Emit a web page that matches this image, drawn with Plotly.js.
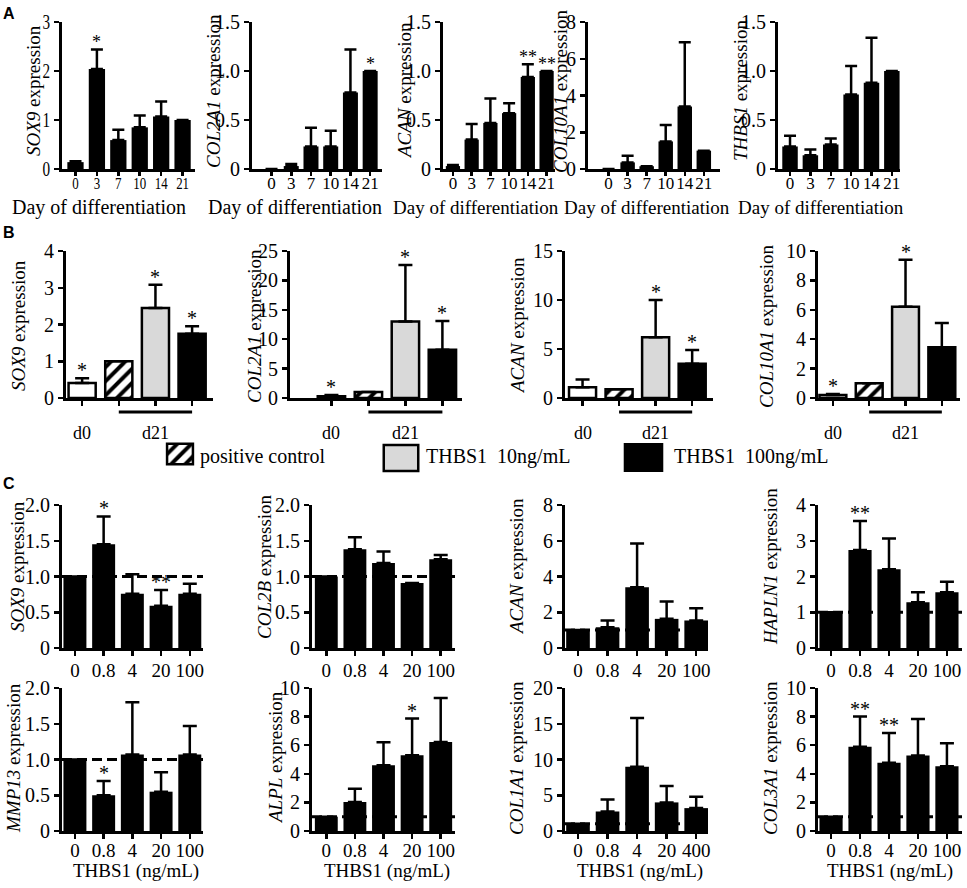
<!DOCTYPE html>
<html><head><meta charset="utf-8">
<script src="https://cdn.plot.ly/plotly-3.0.1.min.js"></script>
<style>html,body{margin:0;padding:0;background:#fff}#chart{width:967px;height:888px}</style>
</head><body><div id="chart"></div>
<script>
// ================= DATA =================
// Panel A: days of differentiation
const daysA = ['0', '3', '7', '10', '14', '21'];
const aSOX9 = [0.14, 2.04, 0.59, 0.85, 1.07, 1.0];
const aSOX9sd = [0.02, 0.40, 0.21, 0.24, 0.31, 0];
const aSOX9sig = ['', '*', '', '', '', ''];
const aCOL2A1 = [0, 0.03, 0.23, 0.23, 0.78, 1.0];
const aCOL2A1sd = [0, 0.02, 0.19, 0.16, 0.44, 0];
const aCOL2A1sig = ['', '', '', '', '', '*'];
const aACAN = [0.03, 0.30, 0.47, 0.57, 0.94, 1.0];
const aACANsd = [0.01, 0.16, 0.25, 0.10, 0.13, 0];
const aACANsig = ['', '', '', '', '**', '**'];
const aCOL10A1 = [0, 0.36, 0.15, 1.5, 3.4, 1.0];
const aCOL10A1sd = [0, 0.36, 0, 0.9, 3.5, 0];
const aCOL10A1sig = ['', '', '', '', '', ''];
const aTHBS1 = [0.23, 0.14, 0.25, 0.76, 0.88, 1.0];
const aTHBS1sd = [0.11, 0.06, 0.06, 0.29, 0.46, 0];
const aTHBS1sig = ['', '', '', '', '', ''];

// Panel B: d0 vs d21 groups
const groupsB = ['d0', 'positive control', 'THBS1 10ng/mL', 'THBS1 100ng/mL'];
const bColors = ['white', 'white', '#d9d9d9', 'black'];
const bPatterns = ['', '/', '', ''];
const bDayLabels = ['d0', 'd21'];
const bDayFirst = [0, 1];
const bDayLast = [0, 3];
const bSOX9 = [0.41, 1.0, 2.45, 1.75];
const bSOX9sd = [0.13, 0, 0.63, 0.20];
const bSOX9sig = ['*', '', '*', '*'];
const bCOL2A1 = [0.3, 1.0, 13.0, 8.2];
const bCOL2A1sd = [0.2, 0, 9.6, 4.9];
const bCOL2A1sig = ['*', '', '*', '*'];
const bACAN = [1.1, 0.9, 6.2, 3.5];
const bACANsd = [0.8, 0, 3.8, 1.4];
const bACANsig = ['', '', '*', '*'];
const bCOL10A1 = [0.2, 1.0, 6.2, 3.45];
const bCOL10A1sd = [0.08, 0, 3.2, 1.65];
const bCOL10A1sig = ['*', '', '*', ''];
const legendNames = ['positive control', 'THBS1  10ng/mL', 'THBS1  100ng/mL'];
const legendColors = ['white', '#d9d9d9', 'black'];
const legendPatterns = ['/', '', ''];

// Panel C: THBS1 dose (ng/mL)
const doseC = ['0', '0.8', '4', '20', '100'];
const doseC_COL1A1 = ['0', '0.8', '4', '20', '400'];
const cSOX9 = [1.0, 1.45, 0.76, 0.59, 0.76];
const cSOX9sd = [0, 0.39, 0.27, 0.22, 0.14];
const cSOX9sig = ['', '*', '', '**', ''];
const cCOL2B = [1.0, 1.38, 1.19, 0.91, 1.24];
const cCOL2Bsd = [0, 0.17, 0.16, 0, 0.06];
const cCOL2Bsig = ['', '', '', '', ''];
const cACAN = [1.0, 1.16, 3.4, 1.63, 1.54];
const cACANsd = [0, 0.38, 2.44, 0.97, 0.69];
const cACANsig = ['', '', '', '', ''];
const cHAPLN1 = [1.0, 2.74, 2.2, 1.28, 1.56];
const cHAPLN1sd = [0, 0.81, 0.86, 0.28, 0.29];
const cHAPLN1sig = ['', '**', '', '', ''];
const cMMP13 = [1.0, 0.5, 1.07, 0.55, 1.07];
const cMMP13sd = [0, 0.2, 0.73, 0.27, 0.40];
const cMMP13sig = ['', '*', '', '', ''];
const cALPL = [1.0, 2.03, 4.6, 5.3, 6.22];
const cALPLsd = [0, 0.93, 1.6, 2.56, 3.08];
const cALPLsig = ['', '', '', '*', ''];
const cCOL1A1 = [1.0, 2.73, 9.0, 4.0, 3.2];
const cCOL1A1sd = [0, 1.67, 6.8, 2.3, 1.6];
const cCOL1A1sig = ['', '', '', '', ''];
const cCOL3A1 = [1.0, 5.9, 4.77, 5.28, 4.53];
const cCOL3A1sd = [0, 2.1, 2.09, 2.56, 1.61];
const cCOL3A1sig = ['', '**', '**', '', ''];
const cBaseline = 1.0;

// Tick labels
const t0to3 = ['0', '1', '2', '3'];
const t0to4 = ['0', '1', '2', '3', '4'];
const tHalf15 = ['0', '0.5', '1.0', '1.5'];
const tHalf20 = ['0', '0.5', '1.0', '1.5', '2.0'];
const t0to8 = ['0', '2', '4', '6', '8'];
const t0to10 = ['0', '2', '4', '6', '8', '10'];
const t0to15 = ['0', '5', '10', '15'];
const t0to20 = ['0', '5', '10', '15', '20'];
const t0to25 = ['0', '5', '10', '15', '20', '25'];

// ================= BUILD =================
const W = 967, H = 888;
const FONT = 'Liberation Serif, Times New Roman, serif';
const SANS = 'Liberation Sans, Arial, sans-serif';
const px = v => v / W;
const py = v => 1 - v / H;
const traces = [], annotations = [], shapes = [];
const squeeze = {};   // per-subplot horizontal condensing of tick labels
const layout = {
  width: W, height: H, margin: {l: 0, r: 0, t: 0, b: 0}, barmode: 'overlay',
  paper_bgcolor: 'white', plot_bgcolor: 'white', showlegend: false,
  font: {family: FONT, size: 19, color: 'black'}
};
let n = 0;
function ax(k) { return k === 1 ? '' : String(k); }

function panel(cfg) {
  n += 1;
  const s = ax(n);
  const xr = 'x' + s, yr = 'y' + s;
  squeeze['x' + s + 'y' + s] = cfg.sq;
  const tv = cfg.ticks.map(t => parseFloat(t));
  const errY = sd => ({type: 'data', symmetric: false, array: sd, arrayminus: sd.map(() => 0),
    color: 'black', thickness: 2.5, width: cfg.cap});
  if (cfg.colors) {
    // one trace per bar so that each bar keeps its own fill / hatch
    cfg.cats.forEach((c, i) => {
      const mk = {color: cfg.colors[i], line: {color: 'black', width: 2.5}};
      if (cfg.patterns[i]) mk.pattern = {shape: cfg.patterns[i], fgcolor: 'black', bgcolor: 'white', size: 10, solidity: 0.4};
      traces.push({type: 'bar', x: [c], y: [cfg.y[i]], xaxis: xr, yaxis: yr, width: cfg.bw,
        hoverinfo: 'skip', showlegend: false, marker: mk, error_y: errY([cfg.sd[i]])});
    });
  } else {
    traces.push({type: 'bar', x: cfg.cats, y: cfg.y, xaxis: xr, yaxis: yr, width: cfg.bw,
      hoverinfo: 'skip', showlegend: false, marker: {color: 'black', line: {width: 0}}, error_y: errY(cfg.sd)});
  }
  layout['xaxis' + s] = {
    domain: [px(cfg.x0), px(cfg.x1)], anchor: yr, type: 'category', range: cfg.xr,
    categoryorder: 'array', categoryarray: cfg.cats,
    tickmode: 'array', tickvals: cfg.cats, ticktext: cfg.cats, tickangle: 0,
    showline: true, linecolor: 'black', linewidth: 3,
    ticks: 'outside', ticklen: cfg.xtl, tickwidth: 2.5, tickcolor: 'black',
    ticklabelstandoff: cfg.xstand || 0,
    showticklabels: cfg.xlabels, tickfont: {family: FONT, size: cfg.xfs || 20, color: 'black'},
    showgrid: false, zeroline: false, fixedrange: true
  };
  layout['yaxis' + s] = {
    domain: [py(cfg.bot), py(cfg.top)], anchor: xr, range: [0, tv[tv.length - 1]],
    tickmode: 'array', tickvals: tv, ticktext: cfg.ticks,
    showline: true, linecolor: 'black', linewidth: 3,
    ticks: 'outside', ticklen: 5, tickwidth: 2.5, tickcolor: 'black',
    tickfont: {family: FONT, size: 20, color: 'black'},
    showgrid: false, zeroline: false, fixedrange: true
  };
  // significance stars above mean + SD (category index on x)
  cfg.sig.forEach((st, i) => {
    if (!st) return;
    annotations.push({xref: xr, yref: yr, x: i, y: cfg.y[i] + cfg.sd[i], text: st,
      showarrow: false, yanchor: 'bottom', yshift: -5,
      font: {family: FONT, size: cfg.sfs || 20, color: 'black'}});
  });
  annotations.push({xref: 'paper', yref: 'paper', x: px(cfg.ytx), y: py(cfg.yty),
    text: cfg.ytitle, textangle: -90, showarrow: false, xanchor: 'center', yanchor: 'middle',
    font: {family: FONT, size: 19, color: 'black'}});
  if (cfg.xtitle) {
    annotations.push({xref: 'paper', yref: 'paper', x: px(cfg.xtx), y: py(cfg.xty),
      text: cfg.xtitle, showarrow: false, xanchor: 'center', yanchor: 'middle',
      font: {family: FONT, size: cfg.xtfs || 19, color: 'black'}});
  }
  if (cfg.dashed) {
    shapes.push({type: 'line', xref: xr + ' domain', yref: yr, x0: 0, x1: 1, y0: cBaseline, y1: cBaseline,
      layer: 'above', line: {color: 'black', width: 3, dash: '10px,5px'}});
  }
  if (cfg.groups) {
    bDayLabels.forEach((lab, g) => {
      const a = bDayFirst[g], b = bDayLast[g];
      if (b > a) {
        shapes.push({type: 'line', xref: xr, yref: 'paper', x0: a, x1: b, y0: py(412), y1: py(412),
          line: {color: 'black', width: 3}});
      }
      annotations.push({xref: xr, yref: 'paper', x: (a + b) / 2, y: py(433), text: lab,
        showarrow: false, xanchor: 'center', yanchor: 'middle',
        font: {family: FONT, size: 18, color: 'black'}});
    });
  }
}

const DAY = 'Day of differentiation';
const DOSE = 'THBS1 (ng/mL)';
// ---- Panel A ----
const Ab = {top: 22, bot: 169, bw: 0.76, cap: 6, xtl: 4, xlabels: true, xfs: 17, xstand: -7, xty: 207, yty: 91, sq: 0.76, sfs: 18};
panel({...Ab, cats: daysA, y: aSOX9, sd: aSOX9sd, sig: aSOX9sig, x0: 62, x1: 195, xr: [-0.63, 5.58], ticks: t0to3, ytitle: '<i>SOX9</i> expression', ytx: 33, xtitle: DAY, xtx: 99, xtfs: 20});
panel({...Ab, cats: daysA, y: aCOL2A1, sd: aCOL2A1sd, sig: aCOL2A1sig, x0: 252, x1: 382, xr: [-0.99, 5.6], ticks: tHalf15, ytitle: '<i>COL2A1</i> expression', ytx: 213, xtitle: DAY, xtx: 295, xtfs: 20});
panel({...Ab, cats: daysA, y: aACAN, sd: aACANsd, sig: aACANsig, x0: 443, x1: 555, xr: [-0.53, 5.45], ticks: tHalf15, ytitle: '<i>ACAN</i> expression', ytx: 404, xtitle: DAY, xtx: 476, xtfs: 19});
panel({...Ab, cats: daysA, y: aCOL10A1, sd: aCOL10A1sd, sig: aCOL10A1sig, x0: 588, x1: 720, xr: [-1.08, 5.85], ticks: t0to8, ytitle: '<i>COL10A1</i> expression', ytx: 560, xtitle: DAY, xtx: 647, xtfs: 19});
panel({...Ab, cats: daysA, y: aTHBS1, sd: aTHBS1sd, sig: aTHBS1sig, x0: 778, x1: 900, xr: [-0.59, 5.4], ticks: tHalf15, ytitle: '<i>THBS1</i> expression', ytx: 740, xtitle: DAY, xtx: 821, xtfs: 19});
// ---- Panel B ----
const Bb = {top: 251, bot: 398, bw: 0.74, cap: 7, xtl: 5, xlabels: false, yty: 326, colors: bColors, patterns: bPatterns, groups: true, sq: 0.8};
panel({...Bb, cats: groupsB, y: bSOX9, sd: bSOX9sd, sig: bSOX9sig, x0: 66, x1: 213, xr: [-0.44, 3.57], ticks: t0to4, ytitle: '<i>SOX9</i> expression', ytx: 18});
panel({...Bb, cats: groupsB, y: bCOL2A1, sd: bCOL2A1sd, sig: bCOL2A1sig, x0: 290, x1: 462, xr: [-1.12, 3.53], ticks: t0to25, ytitle: '<i>COL2A1</i> expression', ytx: 254});
panel({...Bb, cats: groupsB, y: bACAN, sd: bACANsd, sig: bACANsig, x0: 565, x1: 713, xr: [-0.48, 3.57], ticks: t0to15, ytitle: '<i>ACAN</i> expression', ytx: 517});
panel({...Bb, cats: groupsB, y: bCOL10A1, sd: bCOL10A1sd, sig: bCOL10A1sig, x0: 818, x1: 960, xr: [-0.41, 3.5], ticks: t0to10, ytitle: '<i>COL10A1</i> expression', ytx: 766});
// ---- Panel C ----
const Ct = {top: 505, bot: 648, bw: 0.8, cap: 7, xtl: 5, xlabels: true, xfs: 19, xstand: -2, yty: 567, dashed: true, sq: 0.82};
const Cb = {top: 688, bot: 831, bw: 0.8, cap: 7, xtl: 5, xlabels: true, xfs: 19, xstand: -5, yty: 758, dashed: true, xty: 871, sq: 0.82};
panel({...Ct, cats: doseC, y: cSOX9, sd: cSOX9sd, sig: cSOX9sig, x0: 62, x1: 203, xr: [-0.45, 4.46], ticks: tHalf20, ytitle: '<i>SOX9</i> expression', ytx: 17});
panel({...Ct, cats: doseC, y: cCOL2B, sd: cCOL2Bsd, sig: cCOL2Bsig, x0: 312, x1: 455, xr: [-0.5, 4.5], ticks: tHalf20, ytitle: '<i>COL2B</i> expression', ytx: 264});
panel({...Ct, cats: doseC, y: cACAN, sd: cACANsd, sig: cACANsig, x0: 565, x1: 708, xr: [-0.44, 4.4], ticks: t0to8, ytitle: '<i>ACAN</i> expression', ytx: 516});
panel({...Ct, cats: doseC, y: cHAPLN1, sd: cHAPLN1sd, sig: cHAPLN1sig, x0: 818, x1: 962, xr: [-0.45, 4.52], ticks: t0to4, ytitle: '<i>HAPLN1</i> expression', ytx: 770});
panel({...Cb, cats: doseC, y: cMMP13, sd: cMMP13sd, sig: cMMP13sig, x0: 62, x1: 203, xr: [-0.45, 4.46], ticks: tHalf20, ytitle: '<i>MMP13</i> expression', ytx: 13, xtitle: DOSE, xtx: 136});
panel({...Cb, cats: doseC, y: cALPL, sd: cALPLsd, sig: cALPLsig, x0: 312, x1: 455, xr: [-0.5, 4.5], ticks: t0to10, ytitle: '<i>ALPL</i> expression', ytx: 275, xtitle: DOSE, xtx: 387});
panel({...Cb, cats: doseC_COL1A1, y: cCOL1A1, sd: cCOL1A1sd, sig: cCOL1A1sig, x0: 565, x1: 708, xr: [-0.44, 4.4], ticks: t0to20, ytitle: '<i>COL1A1</i> expression', ytx: 516, xtitle: DOSE, xtx: 640});
panel({...Cb, cats: doseC, y: cCOL3A1, sd: cCOL3A1sd, sig: cCOL3A1sig, x0: 818, x1: 962, xr: [-0.45, 4.52], ticks: t0to10, ytitle: '<i>COL3A1</i> expression', ytx: 770, xtitle: DOSE, xtx: 890});

// ---- Legend for panel B (keys drawn as single bars on hidden mini axes) ----
const legBoxes = [[167, 193, 444, 464], [383, 419, 445, 471], [624, 663, 444, 471]];
const legTextX = [198, 424, 672];
legendNames.forEach((name, k) => {
  n += 1;
  const s = ax(n);
  const [l, r, t, b] = legBoxes[k];
  const mk = {color: legendColors[k], line: {color: 'black', width: 2.5}};
  if (legendPatterns[k]) mk.pattern = {shape: legendPatterns[k], fgcolor: 'black', bgcolor: 'white', size: 10, solidity: 0.4};
  traces.push({type: 'bar', x: [name], y: [1], width: 1, xaxis: 'x' + s, yaxis: 'y' + s,
    hoverinfo: 'skip', showlegend: false, marker: mk});
  layout['xaxis' + s] = {domain: [px(l - 2), px(r + 2)], anchor: 'y' + s, type: 'category', range: [-0.58, 0.58], visible: false, fixedrange: true};
  layout['yaxis' + s] = {domain: [py(b + 2), py(t - 2)], anchor: 'x' + s, range: [-0.08, 1.08], visible: false, fixedrange: true};
  annotations.push({xref: 'paper', yref: 'paper', x: px(legTextX[k]), y: py(456), text: name,
    showarrow: false, xanchor: 'left', yanchor: 'middle', font: {family: FONT, size: 20, color: 'black'}});
});

// Panel letters
[['A', 9, 13], ['B', 9, 232], ['C', 9, 483]].forEach(([t, x, y]) => {
  annotations.push({xref: 'paper', yref: 'paper', x: px(x), y: py(y), text: '<b>' + t + '</b>',
    showarrow: false, xanchor: 'center', yanchor: 'middle', font: {family: SANS, size: 16, color: 'black'}});
});

layout.annotations = annotations;
layout.shapes = shapes;
Plotly.newPlot('chart', traces, layout, {staticPlot: true, displayModeBar: false}).then(gd => {
  // condense tick labels horizontally, like the narrow serif type of the original figure
  Object.keys(squeeze).forEach(id => {
    const f = squeeze[id];
    gd.querySelectorAll('.subplot.' + id + ' .xtick text, .subplot.' + id + ' .ytick text').forEach(t => {
      const w = t.getComputedTextLength();
      if (w > 0) {
        t.setAttribute('textLength', (w * f).toFixed(2));
        t.setAttribute('lengthAdjust', 'spacingAndGlyphs');
      }
    });
  });
});
</script>
</body></html>
